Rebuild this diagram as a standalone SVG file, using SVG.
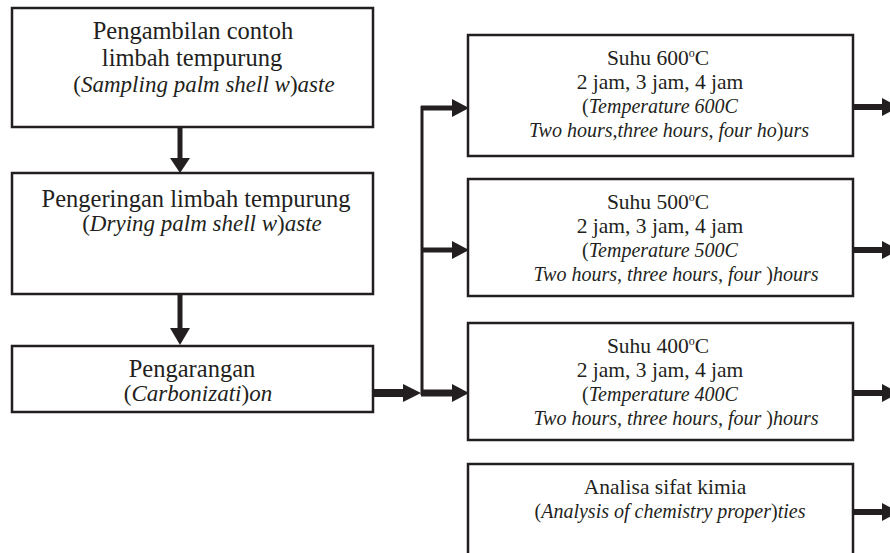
<svg xmlns="http://www.w3.org/2000/svg" width="890" height="553" viewBox="0 0 890 553">
<style>
.box{fill:#fff;stroke:#231f20;stroke-width:2.5}
.t{font-family:"Liberation Serif","DejaVu Serif",serif;fill:#231f20;text-anchor:middle}
.l{font-size:24.5px}
.li{font-size:23px}
.r{font-size:21.5px}
.ri{font-size:20px}
.i{font-style:italic}
.sup{font-size:12px}
.sh{stroke:#231f20;fill:none}
.hd{fill:#231f20}
</style>
<rect width="890" height="553" fill="#fff"/>
<g id="connectors">
<line class="sh" x1="180" y1="127" x2="180" y2="160" stroke-width="5"/>
<polygon class="hd" points="170,158 190,158 180,173"/>
<line class="sh" x1="180" y1="294" x2="180" y2="330" stroke-width="5"/>
<polygon class="hd" points="170,328 190,328 180,345"/>
<line class="sh" x1="373" y1="393" x2="405" y2="393" stroke-width="8"/>
<polygon class="hd" points="403,384 403,402 421,393"/>
<line class="sh" x1="422" y1="106" x2="422" y2="395" stroke-width="3"/>
<line class="sh" x1="421" y1="108" x2="454" y2="108" stroke-width="5"/>
<polygon class="hd" points="452,99 452,117 469,108"/>
<line class="sh" x1="421" y1="250" x2="454" y2="250" stroke-width="5"/>
<polygon class="hd" points="452,241 452,259 469,250"/>
<line class="sh" x1="421" y1="393" x2="454" y2="393" stroke-width="7"/>
<polygon class="hd" points="452,384 452,402 469,393"/>
<line class="sh" x1="853" y1="107" x2="884" y2="107" stroke-width="6"/>
<polygon class="hd" points="882,98 882,116 899,107"/>
<line class="sh" x1="853" y1="250" x2="884" y2="250" stroke-width="6"/>
<polygon class="hd" points="882,241 882,259 899,250"/>
<line class="sh" x1="853" y1="393" x2="884" y2="393" stroke-width="6"/>
<polygon class="hd" points="882,384 882,402 899,393"/>
<line class="sh" x1="853" y1="512" x2="884" y2="512" stroke-width="6"/>
<polygon class="hd" points="882,503 882,521 899,512"/>
</g>
<g id="sampling">
<rect class="box" x="12" y="8" width="361" height="119"/>
<text class="t l" x="193" y="39">Pengambilan contoh</text>
<text class="t l" x="192" y="66">limbah tempurung</text>
<text class="t li" x="204" y="92">(<tspan class="i">Sampling palm shell w</tspan>)<tspan class="i">aste</tspan></text>
</g>
<g id="drying">
<rect class="box" x="12" y="173" width="361" height="121"/>
<text class="t l" x="196" y="207">Pengeringan limbah tempurung</text>
<text class="t li" x="202" y="231">(<tspan class="i">Drying palm shell w</tspan>)<tspan class="i">aste</tspan></text>
</g>
<g id="carbonization">
<rect class="box" x="12" y="346" width="361" height="66"/>
<text class="t l" x="192" y="377">Pengarangan</text>
<text class="t li" x="198" y="401">(<tspan class="i">Carbonizati</tspan>)<tspan class="i">on</tspan></text>
</g>
<g id="temp600">
<rect class="box" x="468" y="35" width="385" height="121"/>
<text class="t r" x="658" y="65">Suhu 600<tspan class="sup" dy="-8">o</tspan><tspan dy="8">C</tspan></text>
<text class="t r" x="660" y="89">2 jam, 3 jam, 4 jam</text>
<text class="t ri" x="660" y="113">(<tspan class="i">Temperature 600C</tspan></text>
<text class="t ri" x="669" y="137"><tspan class="i">Two hours,three hours, four ho</tspan>)<tspan class="i">urs</tspan></text>
</g>
<g id="temp500">
<rect class="box" x="468" y="179" width="385" height="117"/>
<text class="t r" x="658" y="209">Suhu 500<tspan class="sup" dy="-8">o</tspan><tspan dy="8">C</tspan></text>
<text class="t r" x="660" y="233">2 jam, 3 jam, 4 jam</text>
<text class="t ri" x="660" y="257">(<tspan class="i">Temperature 500C</tspan></text>
<text class="t ri" x="676" y="281"><tspan class="i">Two hours, three hours, four </tspan>)<tspan class="i">hours</tspan></text>
</g>
<g id="temp400">
<rect class="box" x="468" y="323" width="385" height="117"/>
<text class="t r" x="658" y="353">Suhu 400<tspan class="sup" dy="-8">o</tspan><tspan dy="8">C</tspan></text>
<text class="t r" x="660" y="377">2 jam, 3 jam, 4 jam</text>
<text class="t ri" x="660" y="401">(<tspan class="i">Temperature 400C</tspan></text>
<text class="t ri" x="676" y="425"><tspan class="i">Two hours, three hours, four </tspan>)<tspan class="i">hours</tspan></text>
</g>
<g id="analysis">
<rect class="box" x="468" y="464" width="385" height="100"/>
<text class="t r" x="665" y="494">Analisa sifat kimia</text>
<text class="t ri" x="670" y="518">(<tspan class="i">Analysis of chemistry proper</tspan>)<tspan class="i">ties</tspan></text>
</g>
</svg>
